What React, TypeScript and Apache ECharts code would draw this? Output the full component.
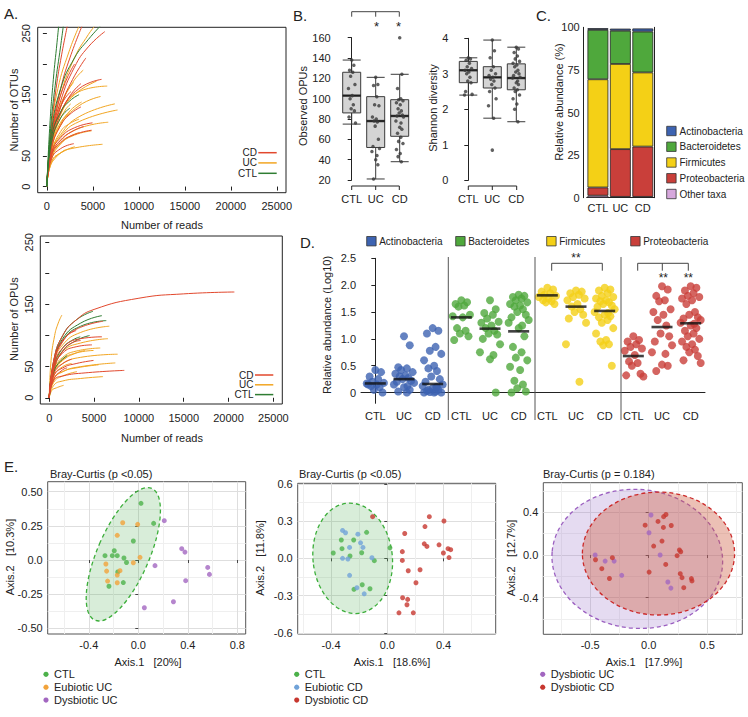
import React, { useEffect, useRef } from 'react';
import * as echarts from 'echarts';

// ---------------- DATA ----------------
const GROUPS = ['CTL', 'UC', 'CD'];
const READ_TICKS = [0, 5000, 10000, 15000, 20000, 25000];
const COUNT_TICKS = [0, 50, 100, 150, 200, 250];
const COUNT_LABELS = [0, 50, 150, 250];

// Panel A (top): rarefaction curves, [reads, OTUs]
const OTU_CTL = [
  [[0, 0], [300, 95], [700, 175], [1100, 235], [1400, 280]],
  [[0, 0], [400, 95], [900, 165], [1500, 230], [1900, 275]],
  [[0, 0], [500, 90], [1500, 160], [3000, 210], [4500, 240], [6000, 265]],
  [[0, 0], [500, 80], [1500, 122], [2500, 140], [3500, 150]],
  [[0, 0], [500, 72], [1500, 112], [2500, 128]],
];
const OTU_UC = [
  [[0, 0], [500, 80], [1500, 150], [3000, 210], [4500, 248], [5200, 262]],
  [[0, 0], [400, 85], [1200, 160], [2400, 220], [3500, 262]],
  [[0, 0], [500, 75], [1500, 130], [2800, 170], [3950, 190]],
  [[0, 0], [500, 70], [1500, 120], [3500, 155], [6560, 164]],
  [[0, 0], [500, 70], [1500, 118], [3000, 150], [5400, 172]],
  [[0, 0], [500, 60], [1500, 100], [3500, 132], [5830, 147]],
  [[0, 0], [500, 62], [1500, 102], [2600, 125], [3770, 138]],
  [[0, 0], [500, 55], [1500, 85], [3500, 114], [7390, 135]],
  [[0, 0], [500, 52], [1500, 82], [3500, 106], [7680, 125]],
  [[0, 0], [500, 50], [1500, 75], [3500, 95], [6670, 105]],
  [[0, 0], [500, 48], [1500, 70], [3000, 84], [4860, 91]],
  [[0, 0], [500, 40], [1500, 55], [3000, 63], [6050, 69]],
  [[0, 0], [500, 40], [1500, 55], [3040, 65]],
  [[0, 0], [500, 55], [1500, 90], [2500, 103], [3500, 110]],
  [[0, 0], [500, 45], [1500, 70], [2500, 82], [3500, 88]],
  [[0, 0], [400, 60], [1000, 95], [2000, 125], [2600, 135]],
  [[0, 0], [500, 65], [1500, 105], [2500, 120]],
  [[0, 0], [300, 30], [1000, 48], [2000, 60]],
  [[0, 0], [400, 70], [1000, 115], [2000, 150], [2900, 170]],
];
const OTU_CD = [
  [[0, 0], [400, 85], [1000, 160], [1600, 215], [2300, 268]],
  [[0, 0], [500, 85], [1500, 160], [2500, 210], [3900, 265]],
  [[0, 0], [500, 80], [1500, 140], [3000, 195], [4500, 228], [6300, 253]],
  [[0, 0], [500, 75], [1500, 130], [2800, 175], [4240, 210]],
  [[0, 0], [500, 72], [1500, 122], [3500, 160], [5940, 175]],
  [[0, 0], [500, 62], [1500, 100], [2500, 118], [3700, 130]],
  [[0, 0], [500, 55], [1500, 80], [3000, 96], [4960, 104]],
  [[0, 0], [500, 50], [1500, 72], [3000, 85], [4860, 92]],
  [[0, 0], [500, 45], [1500, 62], [2930, 70]],
  [[0, 0], [500, 65], [1200, 108], [2500, 148], [3700, 168]],
  [[0, 0], [400, 72], [1000, 122], [2000, 170], [3000, 200]],
  [[0, 0], [500, 52], [1500, 76], [3000, 92], [4000, 98]],
  [[0, 0], [400, 68], [1000, 110], [1800, 140], [2600, 155]],
];

// Panel A (bottom): rarefaction curves, [reads, OPUs]
const OPU_CTL = [
  [[0, 0], [500, 60], [1500, 100], [3000, 125], [4880, 139]],
  [[0, 0], [500, 55], [1500, 95], [3500, 120], [5880, 132]],
  [[0, 0], [500, 55], [1500, 92], [3500, 115], [6360, 124]],
  [[0, 0], [500, 50], [1500, 80], [2500, 92], [3460, 98]],
  [[0, 0], [500, 45], [1500, 75], [3000, 92], [4500, 100]],
  [[0, 0], [500, 40], [1000, 55], [2000, 68]],
];
const OPU_UC = [
  [[0, 0], [200, 60], [600, 100], [1000, 120], [1410, 133]],
  [[0, 0], [500, 55], [1500, 85], [3500, 105], [6700, 115]],
  [[0, 0], [500, 50], [1500, 75], [3500, 88], [6550, 95]],
  [[0, 0], [500, 45], [1500, 65], [3000, 75], [5690, 80]],
  [[0, 0], [500, 42], [1500, 62], [3000, 72], [4940, 76]],
  [[0, 0], [500, 40], [1500, 55], [3500, 65], [7630, 70]],
  [[0, 0], [500, 30], [1500, 42], [3500, 50], [7370, 56]],
  [[0, 0], [500, 30], [1500, 42], [3000, 48], [5500, 53]],
  [[0, 0], [500, 20], [1500, 27], [3500, 31], [6000, 34]],
  [[0, 0], [500, 25], [1500, 35], [3090, 42]],
  [[0, 0], [300, 12], [800, 16], [1600, 20]],
  [[0, 0], [500, 40], [1500, 60], [3000, 72], [4000, 76]],
  [[0, 0], [500, 35], [1500, 50], [2500, 55]],
  [[0, 0], [300, 35], [1000, 55], [2000, 65]],
];
const OPU_CD = [
  [[0, 0], [500, 60], [1500, 100], [3000, 125], [5000, 142], [10000, 160], [15000, 167], [20650, 170]],
  [[0, 0], [500, 55], [1500, 90], [3000, 110], [6000, 123]],
  [[0, 0], [500, 50], [1500, 80], [3500, 95], [5880, 98]],
  [[0, 0], [500, 48], [1500, 72], [3000, 82], [4760, 85]],
  [[0, 0], [500, 35], [1500, 48], [3000, 55], [4940, 60]],
  [[0, 0], [500, 28], [1500, 35], [4000, 40], [8370, 44]],
  [[0, 0], [500, 45], [1500, 75], [2500, 88], [3500, 92]],
  [[0, 0], [500, 38], [1500, 55], [2500, 62]],
  [[0, 0], [400, 50], [1000, 80], [2000, 100], [3000, 108]],
  [[0, 0], [500, 30], [1500, 45], [2000, 48]],
];

// Panel B: boxplots [min, Q1, median, Q3, max] and individual points
const OBS_BOX = [[75, 86, 103, 126, 138], [21, 52, 78, 102, 121], [38, 63, 83, 99, 124]];
const OBS_CTL = [138, 133, 128, 126, 122, 114, 110, 103, 100, 94, 90, 88, 82, 76];
const OBS_UC = [121, 114, 113, 102, 94, 93, 82, 80, 78, 77, 73, 60, 53, 51, 48, 44, 40, 35, 21];
const OBS_CD = [160, 124, 110, 100, 99, 98, 96, 94, 90, 88, 86, 84, 83, 82, 78, 76, 72, 70, 66, 62, 58, 56, 50, 46, 43, 38];
const SHA_BOX = [[2.4, 2.75, 3.1, 3.35, 3.45], [1.75, 2.6, 2.9, 3.2, 3.95], [1.65, 2.55, 2.88, 3.28, 3.75]];
const SHA_CTL = [3.45, 3.42, 3.38, 3.3, 3.2, 3.15, 3.1, 3.05, 3.0, 2.9, 2.8, 2.75, 2.5, 2.42, 2.4];
const SHA_UC = [3.95, 3.65, 3.45, 3.2, 3.1, 3.0, 2.95, 2.9, 2.85, 2.8, 2.7, 2.6, 2.5, 2.3, 2.1, 1.75, 0.85];
const SHA_CD = [3.75, 3.7, 3.6, 3.5, 3.42, 3.35, 3.3, 3.25, 3.2, 3.1, 3.05, 3.0, 2.95, 2.9, 2.88, 2.8, 2.75, 2.7, 2.6, 2.55, 2.5, 2.4, 2.3, 2.15, 2.0, 1.65];

// Panel C: stacked relative abundance (%), per CTL, UC, CD
const TAXA = ['Actinobacteria', 'Bacteroidetes', 'Firmicutes', 'Proteobacteria', 'Other taxa'];
const C_ACTINO = [1.0, 1.2, 1.8];
const C_BACTERO = [29.0, 19.5, 24.0];
const C_FIRMI = [63.5, 50.0, 43.5];
const C_PROTEO = [4.8, 28.0, 29.5];
const C_OTHER = [1.2, 0.5, 0.5];

// Panel D: log10 relative abundance points and group means
const D_ACTINO = [
  [0.42, 0.38, 0.3, 0.25, 0.2, 0.18, 0.17, 0.15, 0.12, 0.1, 0.05, 0.0, 0.15],
  [1.05, 0.88, 0.47, 0.45, 0.42, 0.38, 0.35, 0.32, 0.3, 0.27, 0.25, 0.22, 0.2, 0.18, 0.15, 0.12, 0.1, 0.05, 0.02, 0.0],
  [1.2, 1.15, 1.1, 0.85, 0.78, 0.72, 0.6, 0.5, 0.45, 0.4, 0.3, 0.25, 0.2, 0.15, 0.12, 0.1, 0.08, 0.05, 0.03, 0.02, 0.01, 0.0, 0.0, 0.0, 0.05, 0.1],
];
const D_BACTERO = [
  [1.72, 1.68, 1.65, 1.62, 1.6, 1.45, 1.42, 1.4, 1.2, 1.15, 1.1, 1.05, 0.98],
  [1.72, 1.55, 1.48, 1.45, 1.38, 1.32, 1.3, 1.25, 1.2, 1.15, 1.1, 1.08, 1.0, 0.9, 0.75, 0.7, 0.62, 0.0],
  [1.82, 1.8, 1.78, 1.75, 1.72, 1.68, 1.65, 1.62, 1.6, 1.55, 1.5, 1.45, 1.4, 1.35, 1.3, 1.25, 1.2, 1.05, 0.85, 0.75, 0.65, 0.6, 0.48, 0.42, 0.22, 0.15, 0.08, 0.02, 0.0],
];
const D_FIRMI = [
  [1.95, 1.92, 1.88, 1.85, 1.82, 1.8, 1.78, 1.75, 1.72, 1.7, 1.68, 1.65],
  [1.9, 1.88, 1.85, 1.82, 1.78, 1.75, 1.72, 1.65, 1.6, 1.55, 1.5, 1.45, 1.38, 1.3, 0.9, 0.2],
  [1.95, 1.92, 1.9, 1.85, 1.8, 1.78, 1.75, 1.72, 1.7, 1.68, 1.65, 1.62, 1.6, 1.55, 1.5, 1.48, 1.45, 1.42, 1.4, 1.35, 1.3, 1.2, 1.1, 0.98, 0.95, 0.9, 0.88, 0.5],
];
const D_PROTEO = [
  [1.05, 0.98, 0.95, 0.9, 0.85, 0.82, 0.78, 0.7, 0.58, 0.55, 0.5, 0.35, 0.32, 0.3],
  [1.98, 1.92, 1.8, 1.72, 1.7, 1.55, 1.5, 1.45, 1.35, 1.25, 1.1, 1.05, 0.95, 0.88, 0.75, 0.72, 0.52, 0.5, 0.4],
  [1.98, 1.95, 1.9, 1.85, 1.8, 1.78, 1.75, 1.72, 1.65, 1.5, 1.45, 1.4, 1.38, 1.35, 1.3, 1.28, 1.25, 1.2, 1.15, 1.1, 1.05, 1.0, 0.95, 0.9, 0.85, 0.8, 0.75, 0.68, 0.6, 0.55],
];
const D_MEANS = [0.17, 0.25, 0.16, 1.4, 1.19, 1.14, 1.81, 1.6, 1.52, 0.68, 1.22, 1.29];
const D_TICKS = [0, 0.5, 1, 1.5, 2, 2.5];

// Panel E: PCoA coordinates [Axis.1, Axis.2]
const E1_CTL = [[0.022, 0.415], [0.124, 0.268], [-0.04, 0.139], [-0.194, 0.068], [-0.269, 0.032], [-0.21, 0.032], [-0.17, 0.032], [-0.116, 0.015], [-0.095, -0.018], [-0.166, -0.087], [-0.121, -0.165], [-0.237, -0.192]];
const E1_EUB_UC = [[-0.126, 0.273], [-0.005, 0.261], [-0.17, 0.181], [0.014, 0.02], [-0.04, -0.02], [-0.262, -0.029], [-0.256, -0.081], [-0.148, -0.078], [-0.17, -0.11], [-0.248, -0.154], [-0.17, -0.166]];
const E1_DYS_UC = [[0.21, 0.288], [0.351, 0.083], [0.377, 0.058], [0.135, -0.041], [0.561, -0.054], [0.575, -0.105], [0.383, -0.151], [0.284, -0.305], [0.049, -0.349]];
const E1_ELLIPSE = [[-0.121, 0.042, 0.21, 0.525, -23.3]]; // cx, cy, rx, ry, rotation (deg)

const E2_CTL = [[-0.147, 0.21], [-0.327, 0.148], [-0.239, 0.148], [-0.322, 0.078], [-0.384, 0.043], [0.019, 0.085], [-0.265, 0.019], [-0.182, 0.045], [-0.092, -0.019], [-0.178, -0.213], [-0.237, -0.25], [-0.123, -0.245]];
const E2_EUB_CD = [[-0.318, 0.225], [-0.297, 0.206], [-0.209, 0.195], [-0.19, 0.125], [-0.268, 0.088], [-0.173, 0.088], [-0.318, 0.0], [-0.28, -0.005], [-0.109, 0.005], [-0.268, -0.137], [-0.216, -0.237], [-0.164, -0.286]];
const E2_DYS_CD = [[-0.104, 0.336], [0.299, 0.336], [0.403, 0.301], [0.268, 0.256], [0.124, 0.2], [0.263, 0.117], [0.282, 0.096], [0.368, 0.109], [0.399, 0.043], [0.432, 0.078], [0.451, 0.07], [0.439, 0.006], [0.107, 0.054], [0.107, -0.017], [0.233, -0.092], [0.149, -0.1], [0.204, -0.197], [0.109, -0.318], [0.145, -0.331], [0.14, -0.374], [0.083, -0.439], [0.185, -0.439]];
const E2_ELLIPSE = [[-0.246, 0.0, 0.282, 0.446, 6]];

const E3_DYS_UC = [[0.02, 0.375], [0.003, 0.209], [0.098, 0.0], [-0.457, 0.0], [-0.372, -0.057], [-0.295, -0.057], [-0.23, -0.19], [0.164, -0.253], [0.19, -0.31]];
const E3_DYS_CD = [[-0.454, -0.044], [-0.4, -0.128], [-0.31, -0.025], [-0.335, -0.22], [-0.03, 0.28], [0.08, 0.315], [0.128, 0.36], [0.148, 0.38], [0.193, 0.277], [0.126, 0.259], [0.114, 0.131], [0.043, 0.084], [0.263, 0.047], [0.274, 0.031], [0.243, -0.006], [0.146, -0.088], [0.004, -0.16], [0.27, -0.175], [0.285, -0.212], [0.3, -0.306], [0.365, -0.221], [0.37, -0.243]];
const E3_ELLIPSE_UC = [[-0.097, -0.036, 0.73, 0.651, -5]];
const E3_ELLIPSE_CD = [[0.084, 0.014, 0.65, 0.576, 0]];

// ---------------- STYLE ----------------
const FONT = '"Liberation Sans", Arial, Helvetica, sans-serif';
const INK = '#222';
const COL_CD = '#e2482d';
const COL_UC = '#f2a623';
const COL_CTL = '#2f7d33';
const PHY_COL = { Actinobacteria: '#3d63b1', Bacteroidetes: '#4fa83c', Firmicutes: '#f4d016', Proteobacteria: '#c93f3a', 'Other taxa': '#d6a7dc' };
const E_GREEN = '#4cb14a';
const E_ORANGE = '#f2a33a';
const E_PURPLE = '#a266c0';
const E_BLUE = '#70a2d8';
const E_RED = '#c7372f';
const JIT = [0, 0.2, -0.2, 0.1, -0.1, 0.3, -0.3, 0.05, -0.15, 0.15, -0.05, 0.25, -0.25, 0.35, -0.35, 0.12];

function text(t: string, x: number, y: number, o: any = {}) {
  return {
    type: 'text', x, y, rotation: o.rot || 0, silent: true, z: 10,
    style: { text: t, fill: o.color || INK, font: `${o.bold ? 'bold ' : ''}${o.size || 11}px ${FONT}`, align: o.align || 'left', verticalAlign: 'middle' },
  };
}
function seg(x1: number, y1: number, x2: number, y2: number, color = '#333', w = 1) {
  return { type: 'line', silent: true, z: 10, shape: { x1, y1, x2, y2 }, style: { stroke: color, lineWidth: w } };
}
function box(x: number, y: number, w: number, h: number, fill: string) {
  return { type: 'rect', silent: true, z: 10, shape: { x, y, width: w, height: h }, style: { fill, stroke: '#333', lineWidth: 0.8 } };
}
function dot(cx: number, cy: number, fill: string) {
  return { type: 'circle', silent: true, z: 10, shape: { cx, cy, r: 2.6 }, style: { fill } };
}

function curveSeries(list: number[][][], name: string, color: string, axis: number) {
  return list.map((c) => ({
    type: 'line', name, xAxisIndex: axis, yAxisIndex: axis, data: c, showSymbol: false, symbol: 'none',
    smooth: 0.5, lineStyle: { width: 1, color }, itemStyle: { color }, silent: true, z: 2,
  }));
}
function jitterPts(groups: number[][], scale: number) {
  const out: number[][] = [];
  groups.forEach((g, gi) => g.forEach((v, i) => out.push([gi + JIT[i % JIT.length] * scale, v])));
  return out;
}
function jitterD(groups: number[][], offset: number) {
  const out: number[][] = [];
  groups.forEach((g, gi) => g.forEach((v, i) => out.push([offset + gi + JIT[i % JIT.length], v])));
  return out;
}
function ellipseSeries(data: number[][], xi: number, yi: number, fill: string, stroke: string, z: number) {
  return {
    type: 'custom', xAxisIndex: xi, yAxisIndex: yi, data, z, silent: true,
    renderItem: (_p: any, api: any) => {
      const c = api.coord([api.value(0), api.value(1)]);
      const s = api.size([api.value(2), api.value(3)]);
      return {
        type: 'ellipse', x: c[0], y: c[1], rotation: (api.value(4) * Math.PI) / 180,
        shape: { cx: 0, cy: 0, rx: s[0], ry: s[1] },
        style: { fill, stroke, lineWidth: 1.3, lineDash: [4, 3] },
      };
    },
  };
}

const labelStyle = { color: INK, fontSize: 11, fontFamily: FONT };

function aX(grid: number) {
  return {
    type: 'value', gridIndex: grid, min: -1000, max: 26000,
    axisLine: { show: false },
    axisTick: { show: true, length: 4, customValues: READ_TICKS, lineStyle: { color: INK } },
    axisLabel: { ...labelStyle, margin: 8, customValues: READ_TICKS, formatter: (v: number) => String(v) },
    splitLine: { show: false },
  };
}
function aY(grid: number) {
  return {
    type: 'value', gridIndex: grid, min: -10, max: 260,
    axisLine: { show: false },
    axisTick: { show: true, length: 4, customValues: COUNT_TICKS, lineStyle: { color: INK } },
    axisLabel: { ...labelStyle, margin: 6, rotate: 90, customValues: COUNT_LABELS, formatter: (v: number) => String(v) },
    splitLine: { show: false },
  };
}
function eAxis(grid: number, min: number, max: number, major: number[], fmt: (v: number) => string) {
  return {
    type: 'value', gridIndex: grid, min, max,
    axisLine: { show: false },
    axisTick: { show: true, length: 3, customValues: major, lineStyle: { color: '#444' } },
    axisLabel: { ...labelStyle, margin: 5, customValues: major, formatter: fmt },
    splitLine: { show: true, lineStyle: { color: '#dedede', width: 1 } },
  };
}
function eMinor(grid: number, min: number, max: number, minor: number[], pos: string) {
  return {
    type: 'value', gridIndex: grid, min, max, position: pos,
    axisLine: { show: false },
    axisTick: { show: false, customValues: minor },
    axisLabel: { show: false },
    splitLine: { show: true, lineStyle: { color: '#efefef', width: 1 } },
  };
}
function catAxis(grid: number, data: string[], margin: number, showLine: boolean) {
  return {
    type: 'category', gridIndex: grid, data,
    axisLine: { show: showLine, lineStyle: { color: INK } },
    axisTick: { show: false },
    axisLabel: { ...labelStyle, margin, interval: 0, formatter: (_v: string, i: number) => GROUPS[i % 3] },
    splitLine: { show: false },
  };
}
function hiddenX(grid: number, min: number, max: number) {
  return { type: 'value', gridIndex: grid, min, max, show: false };
}

const fix1 = (v: number) => (v === 0 ? '0.0' : v.toFixed(1));
const fix2 = (v: number) => (v === 0 ? '0.0' : v.toFixed(2));

function buildOption() {
  const grids = [
    { left: 37.7, top: 27.3, width: 248.3, height: 165.4, show: true, borderColor: INK, borderWidth: 1 },
    { left: 40.3, top: 236, width: 242, height: 168, show: true, borderColor: INK, borderWidth: 1 },
    { left: 339.7, top: 37.7, width: 72, height: 142.3 },
    { left: 456.3, top: 38.3, width: 72, height: 142 },
    { left: 586.7, top: 27.3, width: 67.3, height: 170.4 },
    { left: 361, top: 258.3, width: 344, height: 145 },
    { left: 47.7, top: 481.7, width: 198, height: 152.3, show: true, borderColor: '#555', borderWidth: 1 },
    { left: 297.7, top: 483.3, width: 198, height: 150.7, show: true, borderColor: '#555', borderWidth: 1 },
    { left: 543.3, top: 482.7, width: 199, height: 151.6, show: true, borderColor: '#555', borderWidth: 1 },
  ];

  const xAxis: any[] = [
    aX(0), // 0
    aX(1), // 1
    catAxis(2, GROUPS, 13, false), // 2
    hiddenX(2, -0.5, 2.5), // 3
    catAxis(3, GROUPS, 13, false), // 4
    hiddenX(3, -0.5, 2.5), // 5
    catAxis(4, GROUPS, 5, true), // 6
    catAxis(5, D_MEANS.map((_, i) => String(i)), 7, true), // 7
    hiddenX(5, -0.5, 11.5), // 8
    eAxis(6, -0.732, 0.868, [-0.4, 0, 0.4, 0.8], fix1), // 9
    eMinor(6, -0.732, 0.868, [-0.6, -0.2, 0.2, 0.6], 'top'), // 10
    eAxis(7, -0.637, 0.771, [-0.4, 0, 0.4], fix1), // 11
    eMinor(7, -0.637, 0.771, [-0.6, -0.2, 0.2, 0.6], 'top'), // 12
    eAxis(8, -0.9, 0.8, [-0.5, 0, 0.5], fix1), // 13
    eMinor(8, -0.9, 0.8, [-0.75, -0.25, 0.25, 0.75], 'top'), // 14
  ];

  const yAxis: any[] = [
    aY(0), // 0
    aY(1), // 1
    {
      type: 'value', gridIndex: 2, min: 20, max: 160, interval: 20, offset: 5,
      axisLine: { show: true, lineStyle: { color: INK } }, axisTick: { length: 4, lineStyle: { color: INK } },
      axisLabel: { ...labelStyle, margin: 4 }, splitLine: { show: false },
    }, // 2
    {
      type: 'value', gridIndex: 3, min: 0, max: 4, interval: 1, offset: 3,
      axisLine: { show: true, lineStyle: { color: INK } }, axisTick: { length: 4, lineStyle: { color: INK } },
      axisLabel: { ...labelStyle, margin: 5 }, splitLine: { show: false },
    }, // 3
    {
      type: 'value', gridIndex: 4, min: 0, max: 100, interval: 25, offset: 3,
      axisLine: { show: true, lineStyle: { color: INK } }, axisTick: { length: 4, lineStyle: { color: INK } },
      axisLabel: { ...labelStyle, margin: 4 }, splitLine: { show: false },
    }, // 4
    {
      type: 'value', gridIndex: 4, min: 0, max: 100, interval: 12.5, position: 'right',
      axisLine: { show: true, lineStyle: { color: INK } }, axisTick: { length: 3, lineStyle: { color: INK } },
      axisLabel: { show: false }, splitLine: { show: false },
    }, // 5
    {
      type: 'value', gridIndex: 5, min: -0.2, max: 2.5,
      axisLine: { show: true, lineStyle: { color: INK } },
      axisTick: { length: 4, customValues: D_TICKS, lineStyle: { color: INK } },
      axisLabel: { ...labelStyle, margin: 5, customValues: D_TICKS, formatter: (v: number) => (v === 0 ? '0' : v.toFixed(1)) },
      splitLine: { show: false },
    }, // 6
    eAxis(6, -0.541, 0.573, [-0.5, -0.25, 0, 0.25, 0.5], fix2), // 7
    eMinor(6, -0.541, 0.573, [-0.375, -0.125, 0.125, 0.375], 'right'), // 8
    eAxis(7, -0.61, 0.605, [-0.6, -0.3, 0, 0.3, 0.6], fix1), // 9
    eMinor(7, -0.61, 0.605, [-0.45, -0.15, 0.15, 0.45], 'right'), // 10
    eAxis(8, -0.743, 0.678, [-0.4, 0, 0.4], fix1), // 11
    eMinor(8, -0.743, 0.678, [-0.6, -0.2, 0.2, 0.6], 'right'), // 12
  ];

  const series: any[] = [
    ...curveSeries(OTU_UC, 'UC', COL_UC, 0),
    ...curveSeries(OTU_CD, 'CD', COL_CD, 0),
    ...curveSeries(OTU_CTL, 'CTL', COL_CTL, 0),
    ...curveSeries(OPU_UC, 'UC', COL_UC, 1),
    ...curveSeries(OPU_CTL, 'CTL', COL_CTL, 1),
    ...curveSeries(OPU_CD, 'CD', COL_CD, 1),
  ];

  // Panel B
  const bPanels = [
    { box: OBS_BOX, pts: [OBS_CTL, OBS_UC, OBS_CD], cx: 2, hx: 3, y: 2 },
    { box: SHA_BOX, pts: [SHA_CTL, SHA_UC, SHA_CD], cx: 4, hx: 5, y: 3 },
  ];
  bPanels.forEach((p) => {
    series.push({
      type: 'boxplot', xAxisIndex: p.cx, yAxisIndex: p.y, data: p.box, boxWidth: [18, 18], silent: true, z: 2,
      itemStyle: { color: '#d4d4d4', borderColor: '#3a3a3a', borderWidth: 1 },
    });
    series.push({
      type: 'scatter', xAxisIndex: p.hx, yAxisIndex: p.y, symbol: 'rect', symbolSize: [18, 2.4], silent: true, z: 3,
      itemStyle: { color: '#111' }, data: p.box.map((b, i) => [i, b[2]]),
    });
    series.push({
      type: 'scatter', xAxisIndex: p.hx, yAxisIndex: p.y, symbolSize: 3.5, silent: true, z: 4,
      itemStyle: { color: '#3a3a3a' }, data: jitterPts(p.pts, 0.45),
    });
  });

  // Panel C
  const cStack: [string, number[]][] = [
    ['Other taxa', C_OTHER], ['Proteobacteria', C_PROTEO], ['Firmicutes', C_FIRMI], ['Bacteroidetes', C_BACTERO], ['Actinobacteria', C_ACTINO],
  ];
  cStack.forEach(([name, vals]) => {
    series.push({
      type: 'bar', name, stack: 'c', xAxisIndex: 6, yAxisIndex: 4, data: vals, barCategoryGap: '7%', silent: true,
      itemStyle: { color: (PHY_COL as any)[name], borderColor: '#222', borderWidth: 0.8 },
    });
  });

  // Panel D
  const dSets: [string, number[][]][] = [
    ['Actinobacteria', D_ACTINO], ['Bacteroidetes', D_BACTERO], ['Firmicutes', D_FIRMI], ['Proteobacteria', D_PROTEO],
  ];
  dSets.forEach(([name, groups], k) => {
    series.push({
      type: 'scatter', name, xAxisIndex: 8, yAxisIndex: 6, symbolSize: 8, silent: true, z: 2,
      itemStyle: { color: (PHY_COL as any)[name] }, data: jitterD(groups, k * 3),
    });
  });
  series.push({
    type: 'scatter', xAxisIndex: 8, yAxisIndex: 6, symbol: 'rect', symbolSize: [21, 2.6], silent: true, z: 3,
    itemStyle: { color: '#111' }, data: D_MEANS.map((m, i) => [i, m]),
  });

  // Panel E
  series.push(ellipseSeries(E1_ELLIPSE, 9, 7, 'rgba(76,175,80,0.22)', '#3cae3a', 1));
  series.push(ellipseSeries(E2_ELLIPSE, 11, 9, 'rgba(76,175,80,0.22)', '#3cae3a', 1));
  series.push(ellipseSeries(E3_ELLIPSE_UC, 13, 11, 'rgba(150,110,200,0.25)', '#9b5fc0', 1));
  series.push(ellipseSeries(E3_ELLIPSE_CD, 13, 11, 'rgba(205,90,60,0.38)', '#cc2a2a', 1));
  const eDots: [number[][], number, number, string][] = [
    [E1_CTL, 9, 7, E_GREEN], [E1_EUB_UC, 9, 7, E_ORANGE], [E1_DYS_UC, 9, 7, E_PURPLE],
    [E2_CTL, 11, 9, E_GREEN], [E2_EUB_CD, 11, 9, E_BLUE], [E2_DYS_CD, 11, 9, E_RED],
    [E3_DYS_UC, 13, 11, E_PURPLE], [E3_DYS_CD, 13, 11, E_RED],
  ];
  eDots.forEach(([data, xi, yi, color]) => {
    series.push({ type: 'scatter', xAxisIndex: xi, yAxisIndex: yi, data, symbolSize: 5, silent: true, z: 5, itemStyle: { color } });
  });

  // Graphic: labels, legends, brackets, separators
  const g: any[] = [];
  g.push(text('A.', 4, 13, { size: 15 }));
  g.push(text('B.', 293, 15, { size: 15 }));
  g.push(text('C.', 536, 15, { size: 15 }));
  g.push(text('D.', 300, 242, { size: 15 }));
  g.push(text('E.', 4, 466, { size: 15 }));
  // Panel A titles
  g.push(text('Number of OTUs', 13.5, 110, { rot: Math.PI / 2, align: 'center' }));
  g.push(text('Number of reads', 162, 225, { align: 'center' }));
  g.push(text('Number of OPUs', 13.5, 319, { rot: Math.PI / 2, align: 'center' }));
  g.push(text('Number of reads', 162, 438, { align: 'center' }));
  // Panel A legends
  const legA = (ys: number[], tx: number, l1: number, l2: number) => {
    [['CD', COL_CD], ['UC', COL_UC], ['CTL', COL_CTL]].forEach(([n, c], i) => {
      g.push(text(n, tx, ys[i], { align: 'right', size: 10 }));
      g.push(seg(l1, ys[i], l2, ys[i], c, 1.5));
    });
  };
  legA([152.7, 162.9, 173.3], 257, 258.3, 276.7);
  legA([375, 384.8, 394.6], 253.5, 255, 273.3);
  // Panel B
  g.push(text('Observed OPUs', 303, 106, { rot: Math.PI / 2, align: 'center' }));
  g.push(text('Shannon diversity', 433.3, 108, { rot: Math.PI / 2, align: 'center' }));
  g.push(seg(351.7, 186, 399.3, 186, INK));
  [351.7, 375.7, 399.3].forEach((x) => g.push(seg(x, 186, x, 190, INK)));
  g.push(seg(468.3, 186, 516.7, 186, INK));
  [468.3, 492.3, 516.7].forEach((x) => g.push(seg(x, 186, x, 190, INK)));
  g.push(seg(351.7, 11.7, 399.3, 11.7, '#444'));
  [351.7, 375.7, 399.3].forEach((x) => g.push(seg(x, 11.7, x, 16.7, '#444')));
  g.push(text('*', 376.5, 26, { align: 'center', size: 13 }));
  g.push(text('*', 398.5, 26, { align: 'center', size: 13 }));
  // Panel C
  g.push(text('Relative abundance (%)', 559.3, 102, { rot: Math.PI / 2, align: 'center' }));
  TAXA.forEach((n, i) => {
    const y = 131 + i * 15.75;
    g.push(box(666.7, y - 4.7, 9.4, 9.4, (PHY_COL as any)[n]));
    g.push(text(n, 679.5, y, { size: 10 }));
  });
  // Panel D
  g.push(text('Relative abundance (Log10)', 326.7, 325, { rot: Math.PI / 2, align: 'center' }));
  const dLeg: [string, number][] = [['Actinobacteria', 366.7], ['Bacteroidetes', 455.7], ['Firmicutes', 546.7], ['Proteobacteria', 630.7]];
  dLeg.forEach(([n, x]) => {
    g.push(box(x, 236.5, 9.4, 9.4, (PHY_COL as any)[n]));
    g.push(text(n, x + 12.5, 241.2, { size: 10 }));
  });
  [448.3, 535, 621].forEach((x) => g.push(seg(x, 257, x, 420, '#555')));
  g.push(seg(551.7, 263.3, 602.3, 263.3, '#444'));
  [551.7, 602.3].forEach((x) => g.push(seg(x, 263.3, x, 270.7, '#444')));
  g.push(text('**', 576, 258, { align: 'center', size: 12 }));
  g.push(seg(637.7, 263.3, 688.3, 263.3, '#444'));
  [637.7, 662.3, 688.3].forEach((x) => g.push(seg(x, 263.3, x, 270.7, '#444')));
  g.push(text('**', 663.3, 277.5, { align: 'center', size: 12 }));
  g.push(text('**', 688.3, 277.5, { align: 'center', size: 12 }));
  // Panel E titles and axis names
  g.push(text('Bray-Curtis (p <0.05)', 50, 474));
  g.push(text('Bray-Curtis (p <0.05)', 299, 474));
  g.push(text('Bray-Curtis (p = 0.184)', 543, 474));
  g.push(text('Axis.1\u00a0\u00a0\u00a0[20%]', 148, 662, { align: 'center' }));
  g.push(text('Axis.2\u00a0\u00a0\u00a0[10.3%]', 9.5, 557, { rot: Math.PI / 2, align: 'center' }));
  g.push(text('Axis.1\u00a0\u00a0\u00a0[18.6%]', 392, 662, { align: 'center' }));
  g.push(text('Axis.2\u00a0\u00a0\u00a0[11.8%]', 259.5, 558, { rot: Math.PI / 2, align: 'center' }));
  g.push(text('Axis.1\u00a0\u00a0\u00a0[17.9%]', 644, 662, { align: 'center' }));
  g.push(text('Axis.2\u00a0\u00a0\u00a0[12.7%]', 510.5, 558, { rot: Math.PI / 2, align: 'center' }));
  // Panel E legends
  const eLeg = (x: number, items: [string, string][]) => {
    items.forEach(([n, c], i) => {
      const y = 674.3 + i * 12.9;
      g.push(dot(x, y, c));
      g.push(text(n, x + 8, y));
    });
  };
  eLeg(46, [['CTL', E_GREEN], ['Eubiotic UC', E_ORANGE], ['Dysbiotic UC', E_PURPLE]]);
  eLeg(296.7, [['CTL', E_GREEN], ['Eubiotic CD', E_BLUE], ['Dysbiotic CD', E_RED]]);
  eLeg(542.7, [['Dysbiotic UC', E_PURPLE], ['Dysbiotic CD', E_RED]]);

  return {
    animation: false,
    backgroundColor: '#ffffff',
    textStyle: { fontFamily: FONT },
    grid: grids,
    xAxis,
    yAxis,
    series,
    graphic: { elements: g },
  };
}

export default function App() {
  const ref = useRef<HTMLDivElement>(null);
  useEffect(() => {
    if (!ref.current) return;
    const chart = echarts.init(ref.current, null, { renderer: 'svg' });
    chart.setOption(buildOption() as any);
    return () => chart.dispose();
  }, []);
  return <div ref={ref} style={{ position: 'absolute', left: 0, top: 0, width: 748, height: 717 }} />;
}
